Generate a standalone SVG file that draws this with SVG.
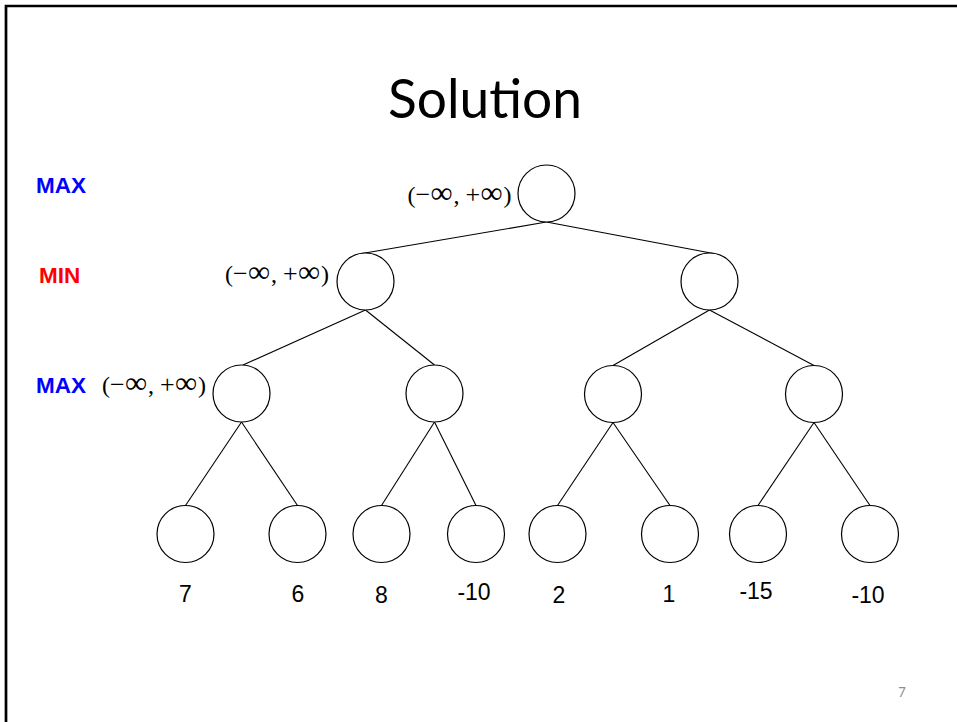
<svg xmlns="http://www.w3.org/2000/svg" width="957" height="722" viewBox="0 0 957 722">
<style>
.node{fill:#fff;stroke:#000;stroke-width:1.2}
.edge{stroke:#000;stroke-width:1.1;fill:none}
.lvl{font-family:"Liberation Sans",Arial,sans-serif;font-weight:bold;font-size:22.5px}
.iv{font-family:"Liberation Serif","Times New Roman",serif;font-size:24px;fill:#000}
.inf{font-size:31px}
.op{font-size:26px}
.val{font-family:"Liberation Sans",Arial,sans-serif;font-size:23px;fill:#000;text-anchor:middle}
</style>
<rect width="957" height="722" fill="#fff"/>
<path d="M6,722 V6 H957" fill="none" stroke="#000" stroke-width="2.7"/>
<text x="485" y="118" font-family="Lato,'Open Sans',sans-serif" font-size="55" text-anchor="middle" textLength="194" lengthAdjust="spacingAndGlyphs">Solution</text>
<text x="36" y="193" class="lvl" fill="#0000ff">MAX</text>
<text x="39" y="283" class="lvl" fill="#ff0000">MIN</text>
<text x="36" y="393" class="lvl" fill="#0000ff">MAX</text>
<g id="connectors">
<line class="edge" x1="546.5" y1="222" x2="362" y2="253.5"/>
<line class="edge" x1="546.5" y1="222" x2="716" y2="254"/>
<line class="edge" x1="365.5" y1="310" x2="243" y2="365"/>
<line class="edge" x1="365.5" y1="310" x2="434.5" y2="365"/>
<line class="edge" x1="709.5" y1="310" x2="613" y2="365.5"/>
<line class="edge" x1="709.5" y1="310" x2="814" y2="365.5"/>
<line class="edge" x1="241.5" y1="422" x2="185.5" y2="505.5"/>
<line class="edge" x1="241.5" y1="422" x2="297.5" y2="505.5"/>
<line class="edge" x1="434.5" y1="422" x2="381.5" y2="505.5"/>
<line class="edge" x1="434.5" y1="422" x2="476" y2="505.5"/>
<line class="edge" x1="613" y1="422.5" x2="557.5" y2="505.5"/>
<line class="edge" x1="613" y1="422.5" x2="670" y2="505.5"/>
<line class="edge" x1="814" y1="422.5" x2="758" y2="505.5"/>
<line class="edge" x1="814" y1="422.5" x2="870" y2="505.5"/>
</g>
<g id="root"><circle class="node" cx="546.5" cy="193.5" r="28.5"/><text class="iv" transform="translate(407.5,202.5)"><tspan x="0">(</tspan><tspan class="op" x="8">−</tspan><tspan class="inf" x="23">∞</tspan><tspan x="46">,</tspan><tspan class="op" x="58">+</tspan><tspan class="inf" x="73">∞</tspan><tspan x="96">)</tspan></text></g>
<g id="min-left"><circle class="node" cx="365.5" cy="281.5" r="28.5"/><text class="iv" transform="translate(225,282)"><tspan x="0">(</tspan><tspan class="op" x="8">−</tspan><tspan class="inf" x="23">∞</tspan><tspan x="46">,</tspan><tspan class="op" x="58">+</tspan><tspan class="inf" x="73">∞</tspan><tspan x="96">)</tspan></text></g>
<g id="min-right"><circle class="node" cx="709.5" cy="281.5" r="28.5"/></g>
<g id="max-1"><circle class="node" cx="241.5" cy="393.5" r="28.5"/><text class="iv" transform="translate(102,393)"><tspan x="0">(</tspan><tspan class="op" x="8">−</tspan><tspan class="inf" x="23">∞</tspan><tspan x="46">,</tspan><tspan class="op" x="58">+</tspan><tspan class="inf" x="73">∞</tspan><tspan x="96">)</tspan></text></g>
<g id="max-2"><circle class="node" cx="434.5" cy="393.5" r="28.5"/></g>
<g id="max-3"><circle class="node" cx="613" cy="394" r="28.5"/></g>
<g id="max-4"><circle class="node" cx="814" cy="394" r="28.5"/></g>
<g id="leaf-1"><circle class="node" cx="185.5" cy="534" r="28.5"/><text class="val" x="185.5" y="602">7</text></g>
<g id="leaf-2"><circle class="node" cx="297.5" cy="534" r="28.5"/><text class="val" x="298" y="602">6</text></g>
<g id="leaf-3"><circle class="node" cx="381.5" cy="534" r="28.5"/><text class="val" x="381.5" y="603">8</text></g>
<g id="leaf-4"><circle class="node" cx="476" cy="534" r="28.5"/><text class="val" x="474" y="600">-10</text></g>
<g id="leaf-5"><circle class="node" cx="557.5" cy="534" r="28.5"/><text class="val" x="559" y="603">2</text></g>
<g id="leaf-6"><circle class="node" cx="670" cy="534" r="28.5"/><text class="val" x="669" y="602">1</text></g>
<g id="leaf-7"><circle class="node" cx="758" cy="534" r="28.5"/><text class="val" x="756" y="599">-15</text></g>
<g id="leaf-8"><circle class="node" cx="870" cy="534" r="28.5"/><text class="val" x="868" y="603">-10</text></g>
<text x="902" y="697" font-family="Lato,'Open Sans',sans-serif" font-size="13" fill="#8c8c8c" text-anchor="middle">7</text>
</svg>
